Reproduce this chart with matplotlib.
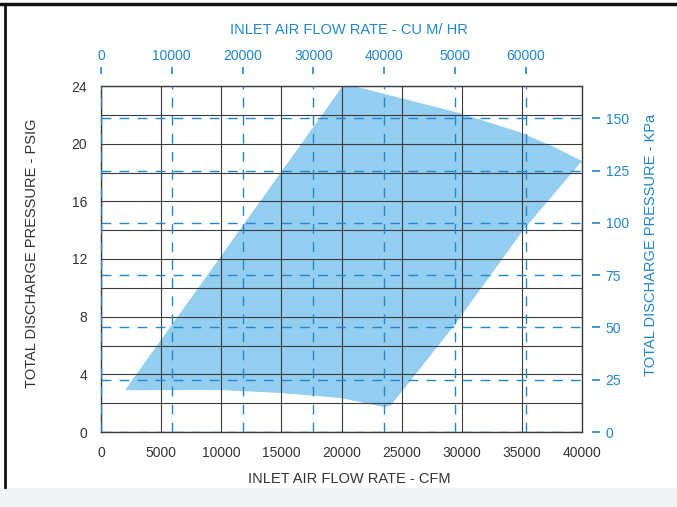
import matplotlib
matplotlib.use("Agg")
import matplotlib.pyplot as plt
from matplotlib.lines import Line2D
from matplotlib.patches import Rectangle
from matplotlib.ticker import FuncFormatter

plt.rcParams['font.family'] = ['Liberation Sans', 'DejaVu Sans']

# unit conversions used by the secondary axes
CFM_TO_M3H = 1.699
PSI_TO_KPA = 6.895

# operating envelope (CFM, PSIG)
env_cfm = [2000, 20100, 21000, 29900, 34800, 37600, 40000, 35100, 29300,
           24100, 23600, 19900, 14900, 9900, 2000]
env_psig = [2.9, 24.0, 24.0, 22.1, 20.8, 19.8, 18.8, 14.0, 7.3,
            1.85, 1.72, 2.36, 2.71, 2.91, 2.9]

cfm_ticks = [0, 5000, 10000, 15000, 20000, 25000, 30000, 35000, 40000]
psig_ticks = [0, 4, 8, 12, 16, 20, 24]
m3h_ticks = [0, 10000, 20000, 30000, 40000, 50000, 60000]
m3h_labels = ["0", "10000", "20000", "30000", "40000", "5000", "60000"]
kpa_ticks = [0, 25, 50, 75, 100, 125, 150]

BLUE = "#1f86cf"
FILL = "#93cdf0"
DARK = "#333333"

fig = plt.figure(figsize=(6.77, 5.07), dpi=100)
ax = fig.add_axes([101 / 677, 75 / 507, 481 / 677, 346 / 507])

ax.fill(env_cfm, env_psig, color=FILL, lw=0, zorder=1)

ax.set_xlim(0, 40000)
ax.set_ylim(0, 24)

# solid black grid every 5000 CFM and every 2 PSIG
for x in range(0, 40001, 5000):
    ax.axvline(x, color="#3a3a3a", lw=0.8, zorder=2)
for y in range(0, 25, 2):
    ax.axhline(y, color="#3a3a3a", lw=0.8, zorder=2)

# blue dashed grid for the metric scales
for m in m3h_ticks:
    ax.axvline(m / CFM_TO_M3H, color=BLUE, lw=1.0, dashes=(7, 6), zorder=3)
for k in kpa_ticks:
    ax.axhline(k / PSI_TO_KPA, color=BLUE, lw=1.0, dashes=(7, 6), zorder=3)

for s in ax.spines.values():
    s.set_color("#3a3a3a")
    s.set_linewidth(1.0)

ax.set_xticks(cfm_ticks)
ax.set_xticklabels([str(v) for v in cfm_ticks])
ax.set_yticks(psig_ticks)
ax.set_yticklabels([str(v) for v in psig_ticks])
ax.tick_params(length=0, labelsize=10, labelcolor=DARK, pad=10)

ax.set_xlabel("INLET AIR FLOW RATE - CFM", fontsize=10.5, color=DARK)
ax.xaxis.set_label_coords(0.517, -0.116)
ax.set_ylabel("TOTAL DISCHARGE PRESSURE - PSIG", fontsize=10.5, color=DARK)
ax.yaxis.set_label_coords(-0.128, 0.517)

# top axis: cubic metres per hour
top = ax.secondary_xaxis(1.035, functions=(lambda x: x * CFM_TO_M3H,
                                           lambda x: x / CFM_TO_M3H))
top.set_xticks(m3h_ticks)
top.set_xticklabels(m3h_labels)
top.spines["top"].set_visible(False)
top.tick_params(direction="out", length=5, width=1.2, color=BLUE,
                labelcolor=BLUE, labelsize=10, pad=3)
top.set_xlabel("INLET AIR FLOW RATE - CU M/ HR", fontsize=10.5, color=BLUE,
               labelpad=10.5)
top.xaxis.label.set_x(0.516)

# right axis: kPa
right = ax.secondary_yaxis(1.02, functions=(lambda y: y * PSI_TO_KPA,
                                            lambda y: y / PSI_TO_KPA))
right.set_yticks(kpa_ticks)
right.yaxis.set_major_formatter(FuncFormatter(lambda v, p: f"{v:g}"))
right.spines["right"].set_visible(False)
right.tick_params(direction="out", length=6, width=1.2, color=BLUE,
                  labelcolor=BLUE, labelsize=10, pad=4)
right.set_ylabel("TOTAL DISCHARGE PRESSURE - KPa", fontsize=10.5, color=BLUE,
                 labelpad=11)
right.yaxis.label.set_y(0.54)

# scanned page frame
fig.add_artist(Line2D([0, 1], [1 - 4 / 507, 1 - 4 / 507], color="#111111",
                      lw=2.5, transform=fig.transFigure))
fig.add_artist(Line2D([5 / 677, 5 / 677], [20 / 507, 1 - 4 / 507],
                      color="#111111", lw=2, transform=fig.transFigure))
fig.add_artist(Rectangle((0, 0), 1, 19 / 507, color="#f1f3f5", lw=0,
                         transform=fig.transFigure))

fig.savefig("out.png", dpi=100)
